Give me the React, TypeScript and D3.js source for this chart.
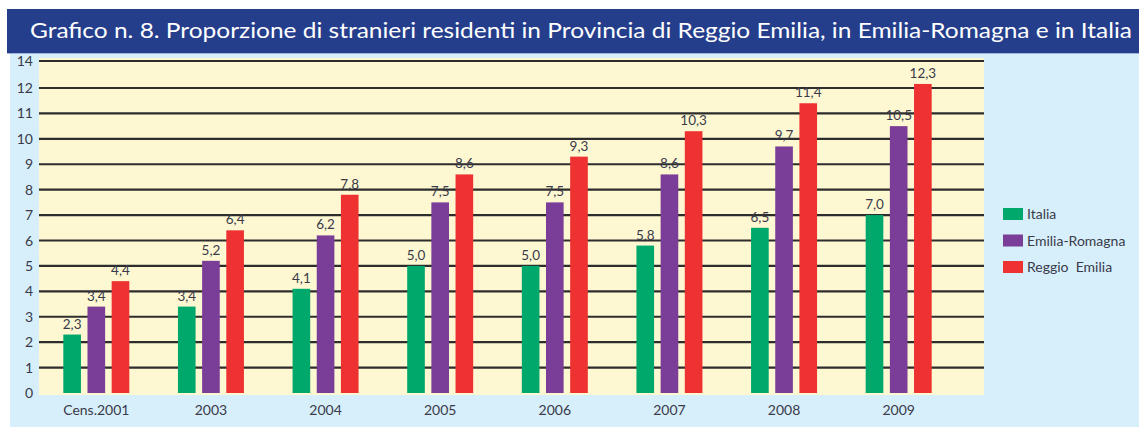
import React from "react";
import * as d3 from "d3";

const title =
  "Grafico n. 8. Proporzione di stranieri residenti in Provincia di Reggio Emilia, in Emilia-Romagna e in Italia";
const categories = ["Cens.2001", "2003", "2004", "2005", "2006", "2007", "2008", "2009"];
const seriesNames = ["Italia", "Emilia-Romagna", "Reggio  Emilia"];
const italia = [2.3, 3.4, 4.1, 5.0, 5.0, 5.8, 6.5, 7.0];
const emiliaRomagna = [3.4, 5.2, 6.2, 7.5, 7.5, 8.6, 9.7, 10.5];
const reggioEmilia = [4.4, 6.4, 7.8, 8.6, 9.3, 10.3, 11.4, 12.3];
const yTicks = [0, 1, 2, 3, 4, 5, 6, 7, 8, 9, 10, 11, 12, 14];
const colors = ["#00a86b", "#7b3e98", "#ee3131"];

const W = 1139;
const H = 427;
const plot = { left: 39, right: 984, top: 58, bottom: 395 };
const textColor = "#3a3a4a";
const font = "Lato, 'Open Sans', sans-serif";

export default function App() {
  const series = [italia, emiliaRomagna, reggioEmilia];
  const x = d3.scaleBand<string>().domain(categories).range([plot.left, 956]).paddingInner(0).paddingOuter(0);
  const groupW = 66;
  const xs = d3
    .scaleBand<number>()
    .domain([0, 1, 2])
    .range([(x.bandwidth() - groupW) / 2, (x.bandwidth() + groupW) / 2])
    .paddingInner(0.27);
  // the reference's axis is piecewise: 0..12 evenly, then a short step to 14
  const y = d3.scaleLinear().domain([0, 12, 14]).range([393, 88, 61]);
  const fmt = (v: number) => d3.format(".1f")(v).replace(".", ",");

  return (
    <div style={{ position: "absolute", left: 0, top: 0 }}>
      <svg width={W} height={H} style={{ display: "block" }}>
        <rect x={0} y={0} width={W} height={H} fill="#ffffff" />
        <rect x={10} y={53} width={W - 10} height={H - 53} fill="#d6effb" />
        <rect x={7} y={9} width={W - 7} height={44} fill="#243e8c" />
        <line x1={7} x2={W} y1={53.5} y2={53.5} stroke="#9fb3d8" strokeWidth={1} />
        <text
          x={30}
          y={38}
          fill="#ffffff"
          fontFamily={font}
          fontSize={21}
          textLength={1102}
          lengthAdjust="spacingAndGlyphs"
        >
          {title}
        </text>

        <rect
          x={plot.left}
          y={plot.top}
          width={plot.right - plot.left}
          height={plot.bottom - plot.top}
          fill="#fdf8d2"
        />

        {yTicks
          .filter((t) => t > 0)
          .map((t) => (
            <line
              key={"g" + t}
              x1={plot.left}
              x2={plot.right}
              y1={y(t)}
              y2={y(t)}
              stroke="#2d2d2d"
              strokeWidth={2.2}
            />
          ))}

        {yTicks.map((t) => (
          <text
            key={"yl" + t}
            x={33}
            y={y(t) + 5}
            textAnchor="end"
            fill={textColor}
            fontFamily={font}
            fontSize={14}
          >
            {t}
          </text>
        ))}

        {categories.map((c, i) => (
          <g key={c} transform={`translate(${x(c)},0)`}>
            {series.map((s, j) => (
              <g key={j}>
                <rect
                  x={xs(j)}
                  y={y(s[i])}
                  width={xs.bandwidth()}
                  height={y(0) - y(s[i])}
                  fill={colors[j]}
                />
                <text
                  x={(xs(j) as number) + xs.bandwidth() / 2}
                  y={y(s[i]) - 6}
                  textAnchor="middle"
                  fill={textColor}
                  fontFamily={font}
                  fontSize={13.5}
                >
                  {fmt(s[i])}
                </text>
              </g>
            ))}
            <text
              x={x.bandwidth() / 2}
              y={415}
              textAnchor="middle"
              fill={textColor}
              fontFamily={font}
              fontSize={14}
            >
              {c}
            </text>
          </g>
        ))}

        {seriesNames.map((n, j) => (
          <g key={n} transform={`translate(1003,${208 + j * 26.5})`}>
            <rect x={0} y={0} width={20} height={12} fill={colors[j]} />
            <text
              x={24}
              y={11}
              fill={textColor}
              fontFamily={font}
              fontSize={14}
              style={{ whiteSpace: "pre" }}
            >
              {n}
            </text>
          </g>
        ))}
      </svg>
    </div>
  );
}
